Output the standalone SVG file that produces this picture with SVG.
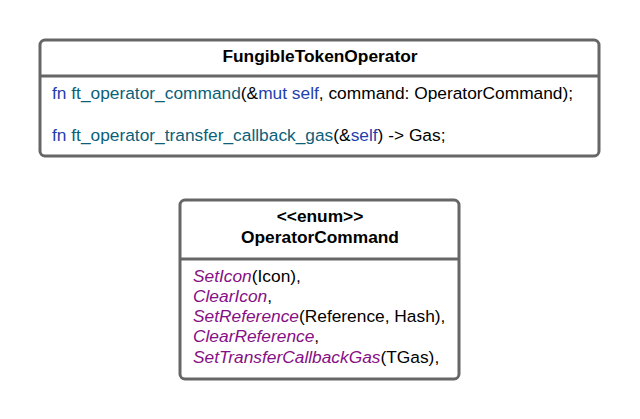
<svg xmlns="http://www.w3.org/2000/svg" width="640" height="419" viewBox="0 0 640 419">
<style>
.box{fill:#fff;stroke:#666;stroke-width:3}
.div{stroke:#666;stroke-width:3}
text{font-family:"Liberation Sans",Arial,sans-serif;font-size:17.33px;fill:#000}
.t{font-weight:bold;text-anchor:middle}
.kw{fill:#1f3fae}
.fnn{fill:#0b5f7a}
.en{fill:#860f86;font-style:italic}
</style>
<rect width="640" height="419" fill="#fff"/>
<g id="FungibleTokenOperator">
<rect class="box" x="40" y="40" width="559" height="116" rx="5"/>
<line class="div" x1="40" y1="76" x2="599" y2="76"/>
<text class="t" x="320" y="62">FungibleTokenOperator</text>
<text x="52" y="99"><tspan class="kw">fn</tspan> <tspan class="fnn">ft_operator_command</tspan>(&amp;<tspan class="kw">mut</tspan> <tspan class="kw">self</tspan>, command: OperatorCommand);</text>
<text x="52" y="141"><tspan class="kw">fn</tspan> <tspan class="fnn">ft_operator_transfer_callback_gas</tspan>(&amp;<tspan class="kw">self</tspan>) -&gt; Gas;</text>
</g>
<g id="OperatorCommand">
<rect class="box" x="180" y="200" width="279" height="179" rx="5"/>
<line class="div" x1="180" y1="259" x2="459" y2="259"/>
<text class="t" x="320" y="222">&lt;&lt;enum&gt;&gt;</text>
<text class="t" x="320" y="243">OperatorCommand</text>
<text x="193" y="282"><tspan class="en">SetIcon</tspan>(Icon),</text>
<text x="193" y="302"><tspan class="en">ClearIcon</tspan>,</text>
<text x="193" y="322"><tspan class="en">SetReference</tspan>(Reference, Hash),</text>
<text x="193" y="342"><tspan class="en">ClearReference</tspan>,</text>
<text x="193" y="363"><tspan class="en">SetTransferCallbackGas</tspan>(TGas),</text>
</g>
<g id="connectors"/>
</svg>
